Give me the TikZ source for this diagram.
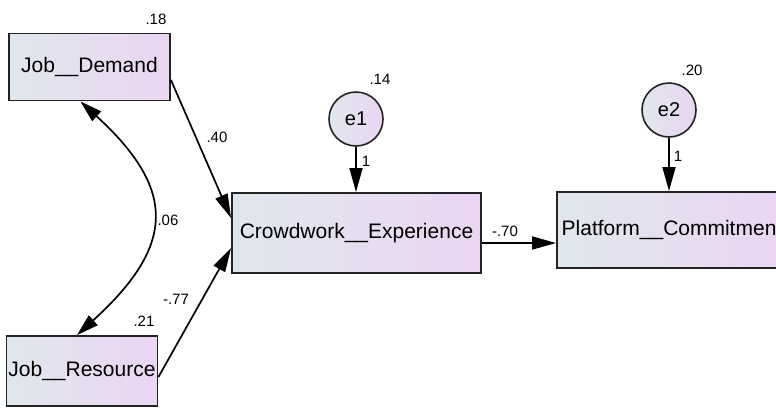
\documentclass[tikz,border=0pt]{standalone}
\usepackage{fontspec}
\setmainfont{Liberation Sans}
\usetikzlibrary{arrows.meta}
\definecolor{shadeL}{RGB}{224,231,236}
\definecolor{shadeR}{RGB}{235,213,243}
\definecolor{edgegray}{RGB}{35,35,35}
\newcommand{\semvar}[4][]{\node[varbox,#1] at (#2) (#3) {#4}}
\newcommand{\semerr}[3]{\node[errcirc] at (#1) (#2) {#3}}

\begin{document}
\begin{tikzpicture}[x=1pt,y=-1pt,
		varbox/.style={draw=edgegray,line width=1.9pt,left color=shadeL,right color=shadeR,inner sep=1pt,font=\fontsize{21}{25}\selectfont},
		errcirc/.style={circle,draw=edgegray,line width=1.6pt,left color=shadeL,right color=shadeR,minimum size=54pt,inner sep=0pt,font=\fontsize{20}{24}\selectfont},
		est/.style={font=\fontsize{15}{18}\selectfont},
		path/.style={line width=1.7pt,-{Triangle[length=24pt,width=13pt]}}]
			\clip (0,0) rectangle (776,408);
			
			\semvar[minimum width=161pt,minimum height=67pt]{89.5,67}{jd}{Job\_\_Demand};
			\semvar[minimum width=151pt,minimum height=70pt]{82,371}{jr}{Job\_\_Resource};
			\semvar[minimum width=249pt,minimum height=80pt]{356.5,233}{cw}{Crowdwork\_\_Experience};
			\semvar[minimum width=230pt,minimum height=76pt]{672,230}{pc}{Platform\_\_Commitment};
			
			\semerr{356,119}{e1}{e1};
			\semerr{669,110}{e2}{e2};
			
			\node[est] at (156,19) (vjd) {.18};
			\node[est] at (144,321) (vjr) {.21};
			\node[est] at (380,79) (ve1) {.14};
			\node[est] at (692,70) (ve2) {.20};
			\node[est] at (366,161) (we1) {1};
			\node[est] at (678,156) (we2) {1};
			\node[est] at (217,137) (bjd) {.40};
			\node[est] at (176,299) (bjr) {-.77};
			\node[est] at (505,231) (bcw) {-.70};
			\node[est] at (168,220) (cov) {.06};
			
			\draw[path] ([yshift=-13pt]jd.east) -- ([yshift=15pt]cw.west);
			\draw[path] ([yshift=-6pt]jr.east) -- ([yshift=-15pt]cw.west);
			\draw[path] ([yshift=-10pt]cw.east) -- ([yshift=-10pt]cw.east -| pc.west);
			\draw[path] (e1.south) -- (e1.south |- cw.north);
			\draw[path] (e2.south) -- (e2.south |- pc.north);
			\draw[line width=1.7pt,{Triangle[length=22pt,width=13pt]}-{Triangle[length=22pt,width=13pt]}]
				([xshift=-9pt]jd.south) .. controls +(96,88) and +(99,-90) .. ([xshift=-5pt]jr.north);
			
			\end{tikzpicture}
\end{document}
